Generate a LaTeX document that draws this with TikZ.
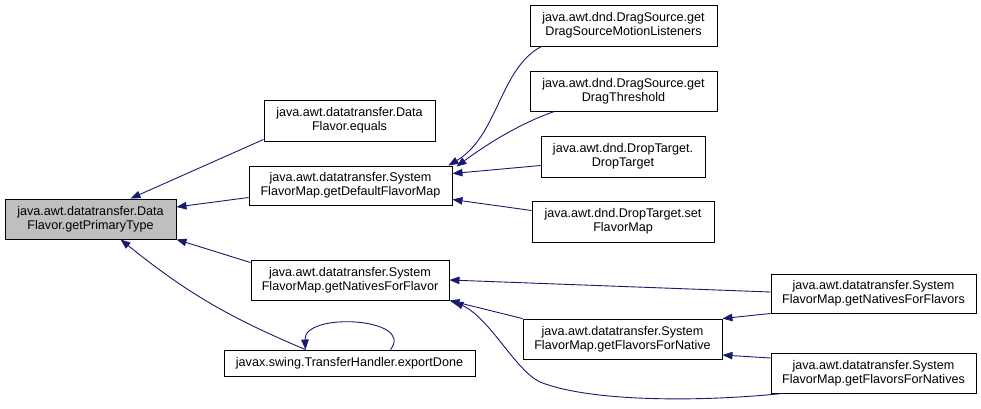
\documentclass[tikz,border=0pt]{standalone}
\usepackage{fontspec}
\setmainfont{Liberation Sans}
\usetikzlibrary{arrows.meta}
\definecolor{edgeblue}{HTML}{191970}
\definecolor{mainfill}{HTML}{BFBFBF}
\tikzset{
  box/.style={draw=black, line width=0.9pt, fill=white, inner sep=0pt, align=center,
    font=\fontsize{12.6}{14.2}\selectfont},
  mainbox/.style={box, fill=mainfill},
  edge/.style={draw=edgeblue, line width=0.9pt, -{Triangle[length=10pt,width=7.5pt]}}
}
\begin{document}
\begin{tikzpicture}[x=1pt,y=-1pt]
\useasboundingbox[fill=white] (0,0) rectangle (981,408);
% nodes
\node[mainbox, minimum width=171pt, minimum height=40pt] (main) at (90.5,219) {java.awt.datatransfer.Data\\Flavor.getPrimaryType};
\node[box, minimum width=171pt, minimum height=41pt] (equals) at (349.5,120.5) {java.awt.datatransfer.Data\\Flavor.equals};
\node[box, minimum width=203pt, minimum height=39pt] (dfm) at (350.5,185.5) {java.awt.datatransfer.System\\FlavorMap.getDefaultFlavorMap};
\node[box, minimum width=198pt, minimum height=40pt] (nff) at (350,280) {java.awt.datatransfer.System\\FlavorMap.getNativesForFlavor};
\node[box, minimum width=251pt, minimum height=26pt] (export) at (349.5,363) {javax.swing.TransferHandler.exportDone};
\node[box, minimum width=187pt, minimum height=41pt] (dsml) at (623.5,25.5) {java.awt.dnd.DragSource.get\\DragSourceMotionListeners};
\node[box, minimum width=187pt, minimum height=40pt] (dth) at (623.5,91) {java.awt.dnd.DragSource.get\\DragThreshold};
\node[box, minimum width=164pt, minimum height=41pt] (dtdt) at (623,156.5) {java.awt.dnd.DropTarget.\\DropTarget};
\node[box, minimum width=182pt, minimum height=41pt] (sfm) at (623,221.5) {java.awt.dnd.DropTarget.set\\FlavorMap};
\node[box, minimum width=199pt, minimum height=40pt] (ffn) at (622.5,339) {java.awt.datatransfer.System\\FlavorMap.getFlavorsForNative};
\node[box, minimum width=205pt, minimum height=39pt] (nffs) at (873.5,293.5) {java.awt.datatransfer.System\\FlavorMap.getNativesForFlavors};
\node[box, minimum width=205pt, minimum height=40pt] (ffns) at (873.5,373) {java.awt.datatransfer.System\\FlavorMap.getFlavorsForNatives};
% edges into main
\draw[edge] ([yshift=2pt]equals.south west) -- ([xshift=40pt]main.north);
\draw[edge] ([yshift=-12pt]dfm.west) -- ([yshift=12pt]main.east);
\draw[edge] ([yshift=-3pt]nff.north west) -- (main.south east);
\draw[edge] ([xshift=-44pt]export.north) to[bend left=8] ([xshift=30pt]main.south);
% self loop
\draw[edge] ([xshift=41pt]export.north) .. controls +(25,-32) and +(-2,-38) .. ([xshift=-44pt]export.north);
% edges into getDefaultFlavorMap
\draw[edge] ([xshift=-82pt]dsml.south) .. controls +(-42,22) and +(50,-30) .. ([xshift=-4pt]dfm.north east);
\draw[edge] ([xshift=-69pt]dth.south) .. controls +(-35,12) and +(30,-22) .. ([xshift=4pt,yshift=-1pt]dfm.north east);
\draw[edge] ([yshift=-9pt]dtdt.west) -- ([yshift=12pt]dfm.east);
\draw[edge] ([yshift=11pt]sfm.west) -- ([yshift=-14pt]dfm.east);
% edges into getNativesForFlavor
\draw[edge] ([yshift=1.5pt]nffs.west) -- (nff.east);
\draw[edge] (ffn.north west) -- (nff.south east);
\draw[edge] ([xshift=12pt]ffns.south west) .. controls (700,402) and (590,402) .. (540,382)
  .. controls (515,370) and (490,318) .. ([xshift=4pt,yshift=-1pt]nff.south east);
% edges into getFlavorsForNative
\draw[edge] (nffs.south west) -- (ffn.north east);
\draw[edge] ([yshift=15pt]ffns.west) -- ([yshift=-16pt]ffn.east);
\end{tikzpicture}
\end{document}
